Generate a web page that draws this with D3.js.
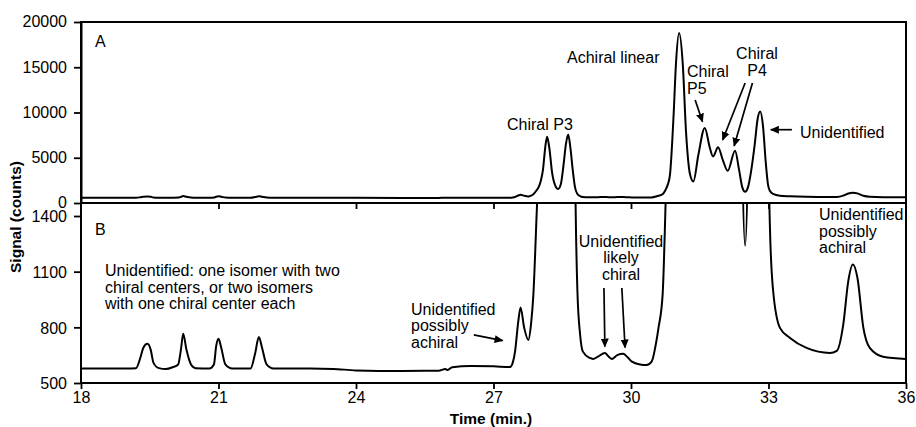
<!DOCTYPE html>
<html>
<head>
<meta charset="utf-8">
<script src="https://cdn.jsdelivr.net/npm/d3@7"></script>
<style>
  body { margin: 0; background: #fff; }
  svg { font-family: "Liberation Sans", Arial, sans-serif; }
</style>
</head>
<body>
<svg id="chart" width="916" height="427"></svg>
<script>
// retention time (min.) and detector signal (counts)
var times = [18.0, 18.5, 19.0, 19.2, 19.3, 19.36, 19.45, 19.52, 19.58, 19.7, 19.85, 20.0, 20.12, 20.18, 20.23, 20.3, 20.4, 20.5,
  20.8, 20.9, 20.95, 21.0, 21.06, 21.15, 21.3, 21.7, 21.8, 21.88, 21.95, 22.05, 22.2, 23.0, 23.5, 24.0, 25.0, 25.8, 25.95,
  26.0, 26.1, 26.5, 27.0, 27.36, 27.42, 27.47, 27.54, 27.59, 27.67, 27.76, 27.82, 27.87, 27.93, 27.98, 28.03, 28.08, 28.13,
  28.17, 28.22, 28.28, 28.35, 28.41, 28.47, 28.53, 28.58, 28.63, 28.68, 28.73, 28.78, 28.83, 28.89, 28.95, 29.1, 29.17,
  29.28, 29.43, 29.5, 29.58, 29.7, 29.83, 29.92, 30.02, 30.2, 30.34, 30.45, 30.55, 30.6, 30.69, 30.74, 30.8, 30.85, 30.93,
  30.98, 31.05, 31.13, 31.2, 31.29, 31.36, 31.47, 31.61, 31.72, 31.79, 31.9, 32.0, 32.11, 32.27, 32.36, 32.43, 32.49,
  32.55, 32.62, 32.7, 32.76, 32.82, 32.88, 32.94, 32.99, 33.03, 33.1, 33.25, 33.47, 33.83, 34.34, 34.49, 34.63, 34.74,
  34.84, 34.94, 35.07, 35.21, 35.5, 36.0];
var signal = [578, 578, 578, 580, 640, 690, 711, 680, 610, 580, 575, 585, 600, 680, 765, 680, 600, 580,
  578, 600, 700, 738, 690, 600, 578, 578, 660, 748, 690, 600, 578, 578, 576, 568, 565, 566, 575,
  570, 585, 592, 590, 586, 610, 669, 831, 907, 797, 732, 820, 976, 1338, 1700, 2400, 3700, 6200,
  7330, 6000, 3300, 1900, 1550, 2100, 4300, 6500, 7560, 6000, 3600, 1700, 1000, 760, 669, 635, 630,
  642, 662, 645, 630, 650, 657, 640, 615, 600, 597, 615, 720, 797, 976, 1338, 2000, 3100, 9780,
  15300, 18780, 15300, 7920, 3110, 2370, 5330, 8300, 6100, 5150, 6150, 4800, 3550, 5780, 3600, 1700, 1240,
  1700, 3500, 6500, 9200, 10100, 8500, 4500, 2000, 1350, 1000, 797, 743, 689, 662, 673, 813, 1048,
  1138, 1067, 797, 689, 642, 630];

var xTicks = [18, 21, 24, 27, 30, 33, 36];
var ticksA = [0, 5000, 10000, 15000, 20000];
var ticksB = [500, 800, 1100, 1400];

var data = times.map(function(t, i) { return { t: t, v: signal[i] }; });

var svg = d3.select("#chart");
var left = 81, right = 906, topA = 22, mid = 203, bottom = 383;
var fs = "16px";

var x = d3.scaleLinear().domain([18, 36]).range([left, right]);
var yA = d3.scaleLinear().domain([0, 20000]).range([mid, topA]);
var yB = d3.scaleLinear().domain([500, 1400]).range([bottom, 216]);

// clip regions for the two panels
var defs = svg.append("defs");
defs.append("clipPath").attr("id", "clipA").append("rect")
  .attr("x", left).attr("y", topA).attr("width", right - left).attr("height", mid - topA);
defs.append("clipPath").attr("id", "clipB").append("rect")
  .attr("x", left).attr("y", mid).attr("width", right - left).attr("height", bottom - mid);
defs.append("marker").attr("id", "arrow")
  .attr("viewBox", "0 0 10 10").attr("refX", 9).attr("refY", 5)
  .attr("markerWidth", 9).attr("markerHeight", 9).attr("markerUnits", "userSpaceOnUse")
  .attr("orient", "auto")
  .append("path").attr("d", "M0,0.5 L10,5 L0,9.5 Z").attr("fill", "#000");

var lineA = d3.line().x(function(d) { return x(d.t); }).y(function(d) { return yA(d.v); }).curve(d3.curveMonotoneX);
var lineB = d3.line().x(function(d) { return x(d.t); }).y(function(d) { return yB(d.v); }).curve(d3.curveMonotoneX);

svg.append("path").datum(data).attr("clip-path", "url(#clipA)")
  .attr("d", lineA).attr("fill", "none").attr("stroke", "#000").attr("stroke-width", 2);
svg.append("path").datum(data).attr("clip-path", "url(#clipB)")
  .attr("d", lineB).attr("fill", "none").attr("stroke", "#000").attr("stroke-width", 2);

// axes
function styleAxis(g) {
  g.selectAll("path").attr("stroke", "#000").attr("stroke-width", 2);
  g.selectAll("line").attr("stroke", "#000").attr("stroke-width", 1.8);
  g.selectAll("text").attr("font-size", fs).attr("fill", "#000")
    .attr("font-family", "Liberation Sans, Arial, sans-serif");
}

svg.append("g").attr("transform", "translate(" + left + ",0)")
  .call(d3.axisLeft(yA).tickValues(ticksA).tickFormat(d3.format("d")).tickSize(7).tickPadding(7).tickSizeOuter(0))
  .call(styleAxis)
  .call(function(g) { g.selectAll("text").attr("dy", "0.3em"); });

svg.append("g").attr("transform", "translate(" + left + ",0)")
  .call(d3.axisLeft(yB).tickValues(ticksB).tickFormat(d3.format("d")).tickSize(7).tickPadding(7).tickSizeOuter(0))
  .call(styleAxis)
  .call(function(g) { g.select("path").remove(); g.selectAll("text").attr("dy", "0.36em"); });

svg.append("g").attr("transform", "translate(0," + bottom + ")")
  .call(d3.axisBottom(x).tickValues(xTicks).tickSize(6).tickPadding(3).tickSizeOuter(0))
  .call(styleAxis)
  .call(function(g) { g.select("path").remove(); });

// inner ticks on the panel boundary
svg.append("g").attr("transform", "translate(0," + mid + ")")
  .call(d3.axisBottom(x).tickValues(xTicks.slice(1, -1)).tickSize(-6).tickFormat("").tickSizeOuter(0))
  .call(styleAxis)
  .call(function(g) { g.select("path").remove(); g.selectAll("line").attr("transform", "scale(1,-1)"); });

// frames
svg.append("rect").attr("x", left).attr("y", topA).attr("width", right - left).attr("height", bottom - topA)
  .attr("fill", "none").attr("stroke", "#000").attr("stroke-width", 2);
svg.append("line").attr("x1", left).attr("x2", right).attr("y1", mid).attr("y2", mid)
  .attr("stroke", "#000").attr("stroke-width", 2);

// axis titles
svg.append("text").attr("transform", "translate(21,217) rotate(-90)")
  .attr("text-anchor", "middle").attr("font-weight", "bold").attr("font-size", "15.5px").text("Signal (counts)");
svg.append("text").attr("x", 491).attr("y", 424)
  .attr("text-anchor", "middle").attr("font-weight", "bold").attr("font-size", "15.5px").text("Time (min.)");

// annotations
var notes = [
  { x: 95, y: 47, anchor: "start", lines: ["A"] },
  { x: 95, y: 235, anchor: "start", lines: ["B"] },
  { x: 567, y: 63, anchor: "start", lines: ["Achiral linear"] },
  { x: 507, y: 130, anchor: "start", lines: ["Chiral P3"] },
  { x: 687, y: 77, anchor: "start", lines: ["Chiral", "P5"] },
  { x: 757, y: 59, anchor: "middle", lines: ["Chiral", "P4"] },
  { x: 800, y: 138, anchor: "start", lines: ["Unidentified"] },
  { x: 105, y: 276, anchor: "start", lines: ["Unidentified: one isomer with two", "chiral centers, or two isomers", "with one chiral center each"] },
  { x: 411, y: 314.5, anchor: "start", lines: ["Unidentified", "possibly", "achiral"] },
  { x: 621, y: 246.5, anchor: "middle", lines: ["Unidentified", "likely", "chiral"] },
  { x: 819, y: 220, anchor: "start", lines: ["Unidentified", "possibly", "achiral"] }
];
notes.forEach(function(n) {
  var t = svg.append("text").attr("x", n.x).attr("y", n.y).attr("text-anchor", n.anchor).attr("font-size", fs);
  n.lines.forEach(function(s, i) {
    t.append("tspan").attr("x", n.x).attr("dy", i === 0 ? 0 : 16.7).text(s);
  });
});

// arrows, given in data coordinates of their panel
var arrowsA = [
  [31.40, 11380, 31.56, 8980],
  [32.49, 13260, 32.00, 6960],
  [32.65, 13260, 32.25, 6300],
  [33.51, 8100, 33.05, 8100]
];
var arrowsB = [
  [26.57, 759, 27.20, 728],
  [29.41, 1012, 29.43, 696],
  [29.80, 1012, 29.87, 691]
];
function drawArrow(a, y) {
  svg.append("line").attr("x1", x(a[0])).attr("y1", y(a[1])).attr("x2", x(a[2])).attr("y2", y(a[3]))
    .attr("stroke", "#000").attr("stroke-width", 1.7).attr("marker-end", "url(#arrow)");
}
arrowsA.forEach(function(a) { drawArrow(a, yA); });
arrowsB.forEach(function(a) { drawArrow(a, yB); });
</script>
</body>
</html>
